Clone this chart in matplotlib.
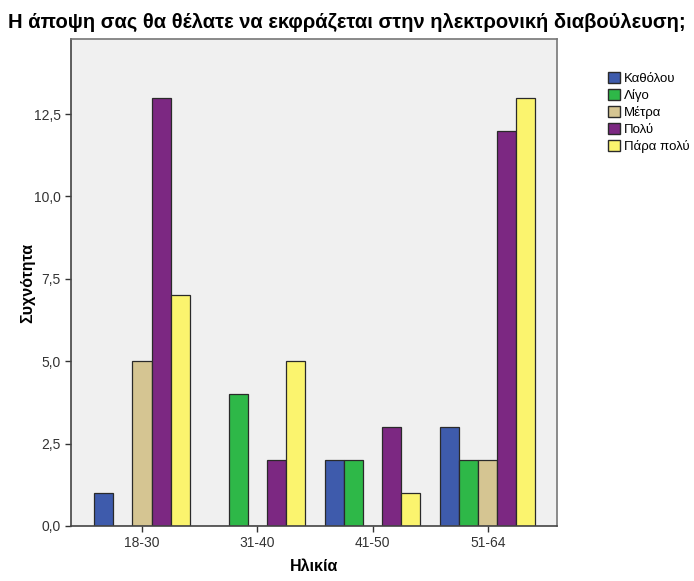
import matplotlib
matplotlib.use("Agg")
import matplotlib.pyplot as plt
import numpy as np
from matplotlib.patches import Patch
from matplotlib.ticker import FuncFormatter

# data
ages = ['18-30', '31-40', '41-50', '51-64']
kathólou = [1, 0, 2, 3]
ligo = [0, 4, 2, 2]
metra = [5, 0, 0, 2]
poly = [13, 2, 3, 12]
para_poly = [7, 5, 1, 13]

series_names = ['Καθόλου', 'Λίγο', 'Μέτρα', 'Πολύ', 'Πάρα πολύ']
series_values = [kathólou, ligo, metra, poly, para_poly]
colors = ['#3E5BAC', '#2EB848', '#D5C592', '#7C2882', '#FBF46E']

plt.rcParams['font.family'] = ['Liberation Sans', 'DejaVu Sans']

fig = plt.figure(figsize=(6.94, 5.81), dpi=100)
ax = fig.add_axes([0.1023, 0.0947, 0.7003, 0.8382])
ax.set_facecolor('#F0F0F0')

x = np.arange(len(ages))
width = 0.165
for i, (vals, col) in enumerate(zip(series_values, colors)):
    offs = (i - 2) * width
    ax.bar(x + offs, vals, width, color=col, edgecolor='#2a2a2a', linewidth=0.9)

ax.set_xlim(-0.616, 3.60)
ax.set_ylim(0, 14.78)
ax.set_yticks([0, 2.5, 5, 7.5, 10, 12.5])
ax.yaxis.set_major_formatter(FuncFormatter(lambda v, p: f'{v:.1f}'.replace('.', ',')))
ax.set_xticks(x)
ax.set_xticklabels(ages)
ax.tick_params(colors='#333333', labelsize=10, length=4, width=1)

for side in ['top', 'right']:
    ax.spines[side].set_color('#777777')
    ax.spines[side].set_linewidth(1.2)
for side in ['left', 'bottom']:
    ax.spines[side].set_color('#444444')
    ax.spines[side].set_linewidth(1.2)

ax.set_ylabel('Συχνότητα', fontsize=11.5, fontweight='bold')
ax.yaxis.set_label_coords(-0.073, 0.5)
ax.set_xlabel('Ηλικία', fontsize=11.5, fontweight='bold', labelpad=6)
fig.text(0.012, 0.962, 'Η άποψη σας θα θέλατε να εκφράζεται στην ηλεκτρονική διαβούλευση;',
         fontsize=14.5, fontweight='bold', va='center', ha='left')

handles = [Patch(facecolor=c, edgecolor='#2a2a2a', label=n) for c, n in zip(colors, series_names)]
fig.legend(handles=handles, loc='upper left', bbox_to_anchor=(0.868, 0.885), frameon=False,
           fontsize=9.5, handlelength=0.9, handleheight=0.9, handletextpad=0.3,
           labelspacing=0.3, borderaxespad=0)

fig.savefig('out.png', dpi=100)
